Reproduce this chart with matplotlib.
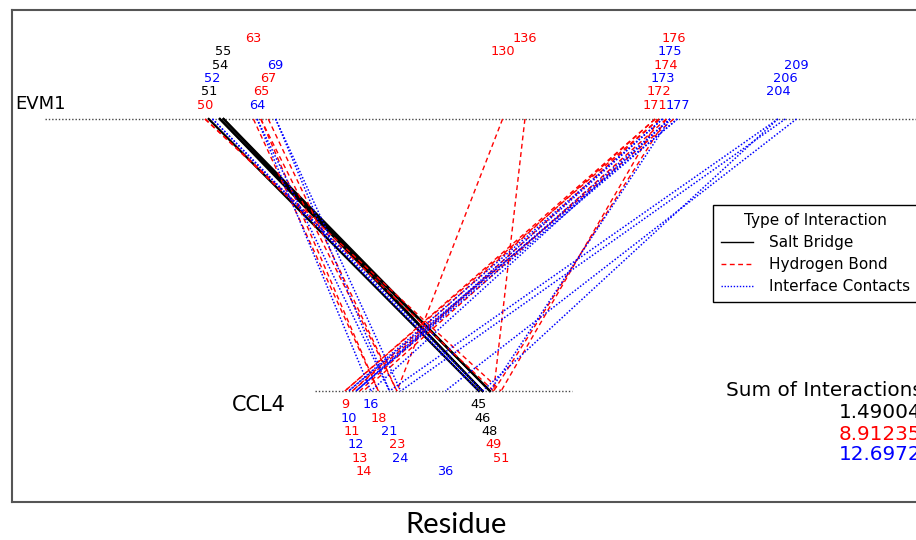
import matplotlib
matplotlib.use("Agg")
import matplotlib.pyplot as plt
from matplotlib.lines import Line2D

plt.rcParams['font.family'] = ['DejaVu Sans']

# residues on each partner, with the colour their label is printed in
evm1_res = [50, 51, 52, 54, 55, 63, 64, 65, 67, 69, 130, 136,
            171, 172, 173, 174, 175, 176, 177, 204, 206, 209]
evm1_col = ['r', 'k', 'b', 'k', 'k', 'r', 'b', 'r', 'r', 'b', 'r', 'r',
            'r', 'r', 'b', 'r', 'b', 'r', 'b', 'b', 'b', 'b']
ccl4_res = [9, 10, 11, 12, 13, 14, 16, 18, 21, 23, 24, 36, 45, 46, 48, 49, 51]
ccl4_col = ['r', 'b', 'r', 'b', 'r', 'r', 'b', 'r', 'b', 'r', 'b', 'b',
            'k', 'k', 'k', 'r', 'r']

# (EVM1 residue, CCL4 residue)
salt_bridges = [(51, 45), (54, 46), (54, 48), (55, 46), (55, 48)]
hydrogen_bonds = [(50, 49), (50, 51), (63, 18), (65, 18), (65, 23), (67, 23),
                  (130, 23), (136, 49), (171, 9), (171, 11), (172, 9),
                  (172, 13), (174, 14), (176, 11), (172, 51), (174, 49)]
contacts = [(52, 45), (52, 46), (64, 16), (64, 21), (69, 21), (69, 24),
            (173, 10), (173, 12), (175, 12), (175, 16), (177, 10), (177, 12),
            (175, 48), (204, 21), (206, 24), (209, 36), (204, 46)]

type_names = ['Salt Bridge', 'Hydrogen Bond', 'Interface Contacts']
sums = ['1.49004', '8.91235', '12.6972']

colors = {'k': 'black', 'r': '#ff0000', 'b': '#0000ff'}
styles = ['-', (0, (3.5, 2.5)), (0, (1, 1.2))]
widths = [1.6, 1.0, 1.1]
shift = 78.6   # CCL4 residues drawn offset to the right

fig = plt.figure(figsize=(9.16, 5.4), dpi=100)

# outer frame (right side runs off the picture)
fr = fig.add_axes([12/916, 38/540, 1.0, 492/540])
fr.set_xticks([])
fr.set_yticks([])
fr.spines['right'].set_visible(False)
for s in ['left', 'top', 'bottom']:
    fr.spines[s].set_color('#555555')
    fr.spines[s].set_linewidth(1.5)
fr.patch.set_alpha(0)

ax = fig.add_axes([0, 0, 1, 1])
ax.set_xlim(-19/3.72, (916-19)/3.72)
ax.set_ylim(-(540-391)/272, 1 + 119/272)
ax.axis('off')
ax.patch.set_alpha(0)

# the two residue axes
ax.plot([7, 250], [1, 1], color='#444444', lw=1.0, ls=(0, (1, 1.4)))
ax.plot([1 + shift, 70 + shift], [0, 0], color='#444444', lw=1.0, ls=(0, (1, 1.4)))

for k, (pairs, c) in enumerate(zip([salt_bridges, hydrogen_bonds, contacts], ['k', 'r', 'b'])):
    for a, b in pairs:
        ax.plot([a, b + shift], [1, 0], color=colors[c], ls=styles[k], lw=widths[k])

for i, (r, c) in enumerate(zip(evm1_res, evm1_col)):
    ax.annotate(str(r), (r, 1), xytext=(0, 10 + (i % 6) * 9.6), textcoords='offset points',
                ha='center', va='center', fontsize=9.3, color=colors[c])
for i, (r, c) in enumerate(zip(ccl4_res, ccl4_col)):
    ax.annotate(str(r), (r + shift, 0), xytext=(0, -10 - (i % 6) * 9.6), textcoords='offset points',
                ha='center', va='center', fontsize=9.3, color=colors[c])

ax.text(15/916, 1 - 104/540, 'EVM1', transform=ax.transAxes, ha='left', va='center', fontsize=13)
ax.text(232/916, 1 - 405/540, 'CCL4', transform=ax.transAxes, ha='left', va='center', fontsize=15)

handles = [Line2D([], [], color=colors[c], ls=styles[k], lw=1.0)
           for k, c in enumerate(['k', 'r', 'b'])]
leg = ax.legend(handles, type_names, title='Type of Interaction', loc='upper left',
                bbox_to_anchor=(713/916, 1 - 205/540), borderaxespad=0, fontsize=11,
                title_fontsize=11, fancybox=False, edgecolor='black', framealpha=1,
                handlelength=2.1, handletextpad=1.0, labelspacing=0.45, borderpad=0.55)
leg.get_frame().set_linewidth(1.0)

fig.text(726/916, 1 - 390/540, 'Sum of Interactions', ha='left', va='center', fontsize=14.4)
for j, (s, c) in enumerate(zip(sums, ['k', 'r', 'b'])):
    fig.text(921/916, 1 - (413 + 21 * j)/540, s, ha='right', va='center', fontsize=14.4,
             color=colors[c])

fig.text(456/916, 1 - 525/540, 'Residue', ha='center', va='center', fontsize=21,
         family=['Lato', 'DejaVu Sans'])

fig.savefig('out.png', dpi=100)
